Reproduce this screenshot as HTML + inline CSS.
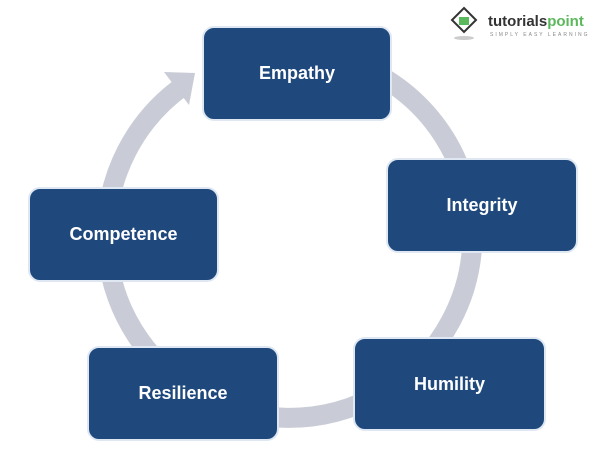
<!DOCTYPE html>
<html><head><style>
body{margin:0;width:601px;height:461px;background:#fff;position:relative;overflow:hidden;font-family:"Liberation Sans",sans-serif}
.b{position:absolute;background:#1f497d;border:2px solid #dfe8f2;border-radius:12px;color:#fff;font-weight:bold;font-size:18px;display:flex;align-items:center;justify-content:center;box-sizing:border-box}
</style></head><body>
<svg width="601" height="461" style="position:absolute;left:0;top:0">
<path d="M183,88 A183,183 0 1 0 210,72" fill="none" stroke="#c9ccd6" stroke-width="20" transform="translate(0,-2)"/>
<polygon points="164,72 195,73 189,105" fill="#c9ccd6"/>
<g transform="translate(452,8)">
<polygon points="12,0 24,12 12,24 0,12" fill="none" stroke="#333" stroke-width="2"/>
<rect x="7" y="9" width="10" height="8" fill="#5cb85c"/>
<ellipse cx="12" cy="30" rx="10" ry="2" fill="#ccc"/>
</g>
<text x="488" y="26" font-family="Liberation Sans" font-weight="bold" font-size="15" fill="#333">tutorials<tspan fill="#5cb85c">point</tspan></text>
<text x="490" y="36" font-family="Liberation Sans" font-size="5" fill="#888" letter-spacing="2">SIMPLY EASY LEARNING</text>
</svg>
<div class="b" style="left:202px;top:26px;width:190px;height:95px">Empathy</div>
<div class="b" style="left:386px;top:158px;width:192px;height:95px">Integrity</div>
<div class="b" style="left:353px;top:337px;width:193px;height:94px">Humility</div>
<div class="b" style="left:87px;top:346px;width:192px;height:95px">Resilience</div>
<div class="b" style="left:28px;top:187px;width:191px;height:95px">Competence</div>
</body></html>
